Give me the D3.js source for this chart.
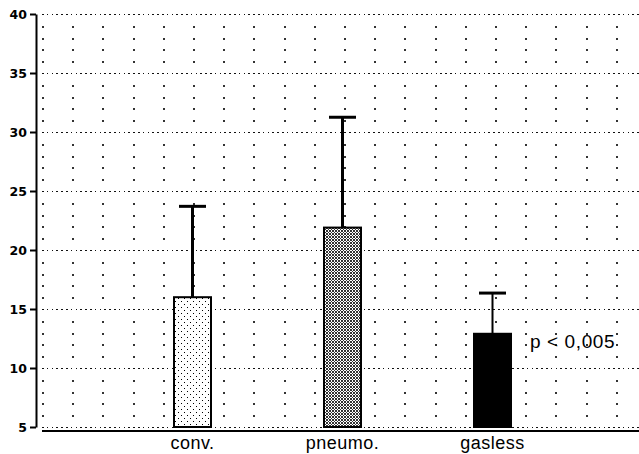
<!DOCTYPE html>
<html>
<head>
<meta charset="utf-8">
<script src="https://cdn.jsdelivr.net/npm/d3@7"></script>
<style>
  body { margin: 0; background: #fff; }
  svg { display: block; }
</style>
</head>
<body>
<div id="chart"></div>
<script>
const categories = ["conv.", "pneumo.", "gasless"];
const means = [16.0, 21.9, 12.9];
const upperSD = [23.7, 31.25, 16.35];
const yTicks = [5, 10, 15, 20, 25, 30, 35, 40];
const annotation = "p < 0,005";

const width = 639, height = 454;

const svg = d3.select("#chart")
  .append("svg")
  .attr("width", width)
  .attr("height", height);

// scales
const yScale = d3.scaleLinear()
  .domain([5, 40])
  .range([427, 14]);

const xScale = d3.scalePoint()
  .domain(categories)
  .range([192.5, 492.5]);

const barWidth = 37;
const capWidth = 27;

// fill patterns
const defs = svg.append("defs");
const sparse = defs.append("pattern")
  .attr("id", "sparse")
  .attr("patternUnits", "userSpaceOnUse")
  .attr("width", 6).attr("height", 6);
sparse.append("rect").attr("width", 6).attr("height", 6).attr("fill", "#fff");
[[1, 1], [4, 4]].forEach(([x, y]) => {
  sparse.append("rect").attr("x", x).attr("y", y).attr("width", 1).attr("height", 1).attr("fill", "#000");
});

const dense = defs.append("pattern")
  .attr("id", "dense")
  .attr("patternUnits", "userSpaceOnUse")
  .attr("width", 3).attr("height", 3);
dense.append("rect").attr("width", 3).attr("height", 3).attr("fill", "#fff");
[[0, 0], [1, 1], [2, 2], [2, 0], [0, 2]].forEach(([x, y]) => {
  dense.append("rect").attr("x", x).attr("y", y).attr("width", 1).attr("height", 1).attr("fill", "#333");
});

const fills = ["url(#sparse)", "url(#dense)", "#000"];

// grid: minor dots at every unit, every 30px horizontally
const grid = svg.append("g").attr("shape-rendering", "crispEdges");
const gridX = d3.range(42, 636, 30.2);
d3.range(6, 40).filter(v => v % 5 !== 0).forEach(v => {
  gridX.forEach(x => {
    grid.append("rect")
      .attr("x", Math.round(x))
      .attr("y", Math.round(yScale(v)))
      .attr("width", 1.5).attr("height", 1.5)
      .attr("fill", "#333");
  });
});

// major dotted lines
grid.selectAll("line.major")
  .data(yTicks)
  .join("line")
    .attr("class", "major")
    .attr("x1", 42).attr("x2", width)
    .attr("y1", d => Math.round(yScale(d)) + 0.5)
    .attr("y2", d => Math.round(yScale(d)) + 0.5)
    .attr("stroke", "#111")
    .attr("stroke-width", 1.5)
    .attr("stroke-dasharray", "1.5,3.3");

// baseline
svg.append("line")
  .attr("x1", 42).attr("x2", width)
  .attr("y1", 431).attr("y2", 431)
  .attr("stroke", "#000").attr("stroke-width", 2);

// y axis
const yAxis = svg.append("g")
  .attr("transform", "translate(36,0)")
  .attr("font-family", "DejaVu Sans")
  .attr("font-size", 12.5)
  .attr("font-weight", "bold")
  .call(d3.axisLeft(yScale).tickValues(yTicks).tickSize(6).tickSizeOuter(0).tickPadding(3));
yAxis.attr("font-family", "DejaVu Sans").attr("font-size", 12.5).attr("font-weight", "bold");
yAxis.select(".domain").attr("stroke", "#000").attr("stroke-width", 2);
yAxis.selectAll(".tick line").attr("stroke", "#000").attr("stroke-width", 2);
yAxis.selectAll(".tick text")
  .attr("fill", "#000")
  .attr("dy", "0.36em");

// error bars
const errs = svg.append("g");
categories.forEach((c, i) => {
  const cx = xScale(c);
  errs.append("line")
    .attr("x1", cx).attr("x2", cx)
    .attr("y1", yScale(means[i])).attr("y2", yScale(upperSD[i]))
    .attr("stroke", "#000").attr("stroke-width", i === 2 ? 2 : 3);
  errs.append("line")
    .attr("x1", cx - capWidth / 2).attr("x2", cx + capWidth / 2)
    .attr("y1", yScale(upperSD[i])).attr("y2", yScale(upperSD[i]))
    .attr("stroke", "#000").attr("stroke-width", 3);
});

// bars
svg.append("g")
  .selectAll("rect")
  .data(categories)
  .join("rect")
    .attr("x", d => xScale(d) - barWidth / 2)
    .attr("y", (d, i) => yScale(means[i]))
    .attr("width", barWidth)
    .attr("height", (d, i) => yScale(5) - yScale(means[i]))
    .attr("fill", (d, i) => fills[i])
    .attr("stroke", "#000")
    .attr("stroke-width", 2);

// category labels
svg.append("g")
  .selectAll("text")
  .data(categories)
  .join("text")
    .attr("x", d => xScale(d))
    .attr("y", 449)
    .attr("text-anchor", "middle")
    .attr("font-family", "Liberation Sans, Arial, sans-serif")
    .attr("font-size", 18)
    .attr("letter-spacing", 0.5)
    .text(d => d);

// p-value annotation
svg.append("text")
  .attr("x", 530)
  .attr("y", 348)
  .attr("font-family", "Liberation Sans, Arial, sans-serif")
  .attr("font-size", 19)
  .attr("letter-spacing", 0.6)
  .style("white-space", "pre")
  .text(annotation);
</script>
</body>
</html>
